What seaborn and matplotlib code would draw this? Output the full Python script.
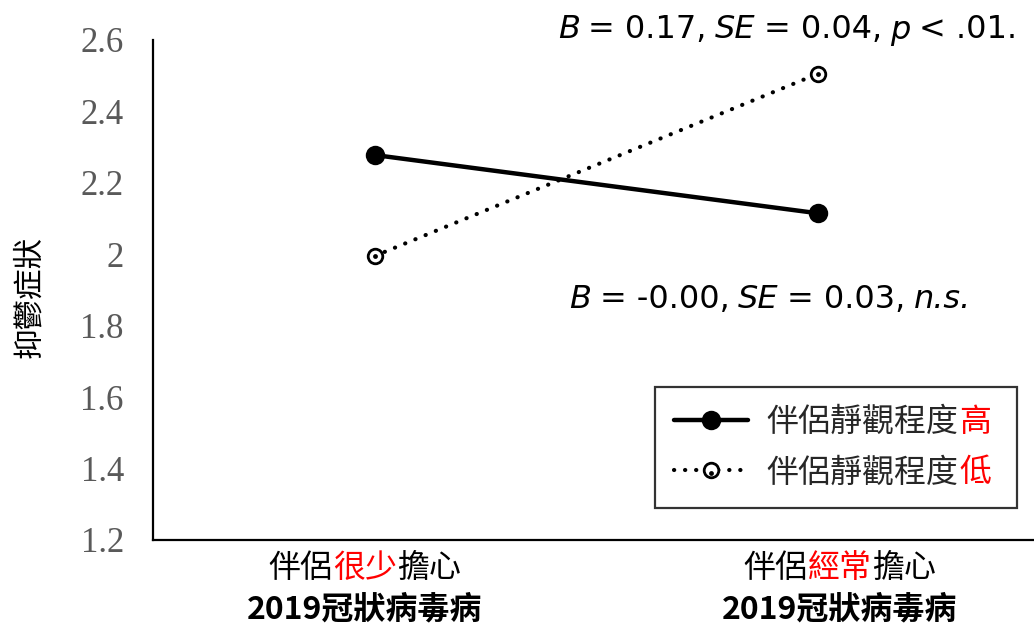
import numpy as np
import pandas as pd
import matplotlib
matplotlib.use("Agg")
import matplotlib.pyplot as plt
import seaborn as sns
from matplotlib.offsetbox import TextArea, HPacker, AnnotationBbox

# data
categories = ["很少", "經常"]
label_pre = "伴侶"
label_post = "擔心"
label_second = "2019冠狀病毒病"
high_values = [2.278, 2.115]
low_values = [1.995, 2.505]
legend_base = "伴侶靜觀程度"
legend_levels = ["高", "低"]
y_ticks = [1.2, 1.4, 1.6, 1.8, 2.0, 2.2, 2.4, 2.6]
y_tick_labels = ["1.2", "1.4", "1.6", "1.8", "2", "2.2", "2.4", "2.6"]
y_label = "抑鬱症狀"
stats_low = [("B", True), ("= 0.17,", False), ("SE", True), ("= 0.04,", False),
             ("p", True), ("< .01.", False)]
stats_high = [("B", True), ("= -0.00,", False), ("SE", True), ("= 0.03,", False),
              ("n.s.", True)]

x_pos = np.arange(len(categories))
df = pd.DataFrame({
    "x": np.concatenate([x_pos, x_pos]),
    "y": high_values + low_values,
    "group": [legend_levels[0]] * 2 + [legend_levels[1]] * 2,
})

sns.set_style("white")
cjk = ["Noto Sans CJK TC", "DejaVu Sans"]
plt.rcParams["font.family"] = cjk

fig = plt.figure(figsize=(10.34, 6.27), dpi=100)
ax = fig.add_axes([153 / 1034, 87 / 627, 886 / 1034, 500 / 627])

hi = df[df["group"] == legend_levels[0]]
lo = df[df["group"] == legend_levels[1]]

sns.lineplot(data=hi, x="x", y="y", ax=ax, color="black", linewidth=3.2,
             marker="o", markersize=14, markeredgewidth=0, errorbar=None, sort=False)
sns.lineplot(data=lo, x="x", y="y", ax=ax, color="black", linewidth=3.0,
             linestyle=(0, (0.05, 2.6)), dash_capstyle="round",
             marker="o", markersize=10.5, markerfacecolor="white",
             markeredgecolor="black", markeredgewidth=2.0, errorbar=None, sort=False)
dots = ax.scatter(lo["x"], lo["y"], s=12, color="black", zorder=5, linewidths=0)

ax.set_xlim(-0.5, 1.5)
ax.set_ylim(1.2, 2.6)
ax.set_yticks(y_ticks)
ax.set_yticklabels(y_tick_labels, family="Liberation Serif", fontsize=25, color="#595959")
ax.set_xticks(x_pos)
ax.set_xticklabels([])
ax.tick_params(axis="both", length=0)
ax.tick_params(axis="y", pad=21)
ax.set_xlabel("")
ax.set_ylabel(y_label, fontsize=22, family=cjk, color="black")
ax.yaxis.set_label_coords(-0.122, 0.486)

for s in ["top", "right"]:
    ax.spines[s].set_visible(False)
for s in ["left", "bottom"]:
    ax.spines[s].set_color("black")
    ax.spines[s].set_linewidth(1.6)


def rich(parts, size, family, weight="normal", sep=0.0):
    boxes = []
    for text, color, style in parts:
        boxes.append(TextArea(text, textprops=dict(color=color, fontsize=size, family=family,
                                                   fontweight=weight, fontstyle=style)))
    return HPacker(children=boxes, align="baseline", pad=0, sep=sep)


# category labels (two lines, with red key words)
label_offsets = [-7, 16]
for x, key, dx in zip(x_pos, categories, label_offsets):
    line1 = rich([(label_pre, "black", "normal"), (key, "red", "normal"),
                  (label_post, "black", "normal")], 23, cjk, sep=0)
    ab = AnnotationBbox(line1, (x, -0.056), xycoords=("data", "axes fraction"),
                        xybox=(dx, 0), boxcoords="offset points",
                        box_alignment=(0.5, 0.5), frameon=False, pad=0, annotation_clip=False)
    ax.add_artist(ab)
    line2 = rich([(label_second, "black", "normal")], 23, cjk, weight="bold")
    ab = AnnotationBbox(line2, (x, -0.138), xycoords=("data", "axes fraction"),
                        xybox=(dx, 0), boxcoords="offset points",
                        box_alignment=(0.5, 0.5), frameon=False, pad=0, annotation_clip=False)
    ax.add_artist(ab)

# slope statistics
sans = ["DejaVu Sans"]
top = rich([(t, "black", "italic" if it else "normal") for t, it in stats_low], 23, sans, sep=6)
ax.add_artist(AnnotationBbox(top, (1.451, 2.628), xycoords="data", box_alignment=(1, 0.5),
                             frameon=False, pad=0, annotation_clip=False))
bot = rich([(t, "black", "italic" if it else "normal") for t, it in stats_high], 23, sans, sep=6)
ax.add_artist(AnnotationBbox(bot, (0.893, 1.872), xycoords="data", box_alignment=(0.5, 0.5),
                             frameon=False, pad=0, annotation_clip=False))

# legend: black base text, red level character added after it
lines = ax.get_lines()
handles = [lines[0], (lines[1], dots)]
leg = ax.legend(handles, [legend_base, legend_base], loc="upper left", mode="expand",
                bbox_to_anchor=(655 / 1034, (627 - 505) / 627, (1017 - 655) / 1034, (505 - 387) / 627),
                bbox_transform=fig.transFigure,
                borderaxespad=0, fancybox=False, frameon=True, edgecolor="black",
                prop=dict(family=cjk, size=23), handlelength=2.3, handletextpad=0.6,
                borderpad=0.6, labelspacing=0.57)
leg.get_frame().set_linewidth(1.6)
leg.set_zorder(6)
for txt, lvl in zip(leg.get_texts(), legend_levels):
    ax.annotate(lvl, xy=(1, 0), xycoords=txt, xytext=(0.2, 0), textcoords="offset points",
                ha="left", va="bottom", fontsize=23, family=cjk, color="red", zorder=10)

fig.savefig("out.png", dpi=100)
